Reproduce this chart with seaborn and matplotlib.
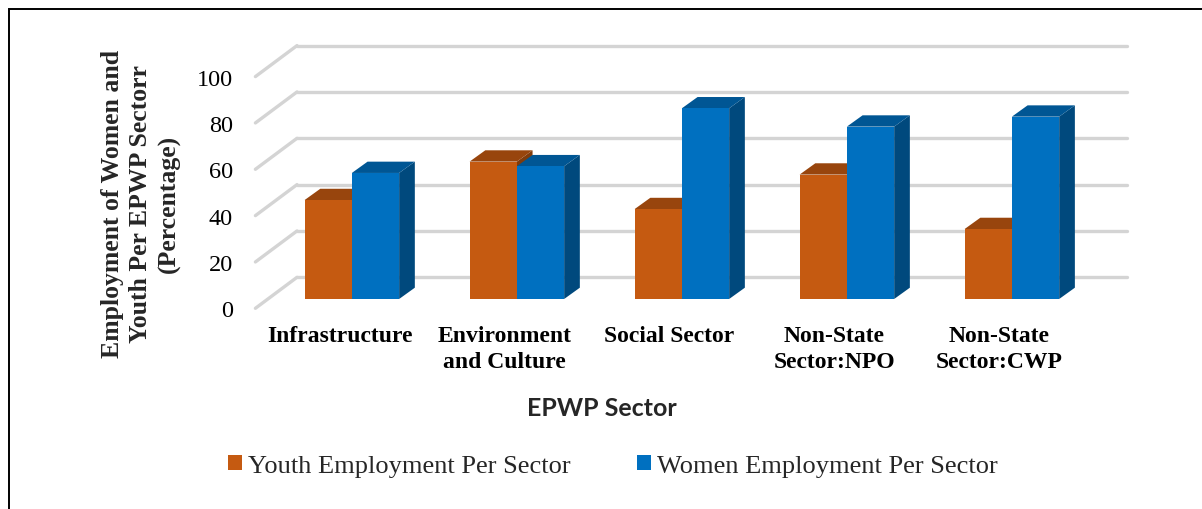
import matplotlib
matplotlib.use("Agg")
import numpy as np
import pandas as pd
import matplotlib.pyplot as plt
import matplotlib.transforms as mtransforms
from matplotlib.patches import Polygon, Rectangle
from matplotlib.colors import to_rgb
import seaborn as sns

# ---------------- data ----------------
sectors = ["Infrastructure", "Environment\nand Culture", "Social Sector",
           "Non-State\nSector:NPO", "Non-State\nSector:CWP"]
youth = [42.7, 59.3, 38.8, 53.7, 30.2]
women = [54.4, 57.3, 82.3, 74.4, 78.7]
series = ["Youth Employment Per Sector", "Women Employment Per Sector"]
yticks = [0, 20, 40, 60, 80, 100]

df = pd.DataFrame({
    "Sector": sectors * 2,
    "Value": youth + women,
    "Series": [series[0]] * len(sectors) + [series[1]] * len(sectors),
})

# ---------------- style ----------------
sns.set_theme(style="white")
plt.rcParams["font.family"] = ["Liberation Serif", "DejaVu Serif"]

W, H = 1202, 510
DPI = 100
fig = plt.figure(figsize=(W / DPI, H / DPI), dpi=DPI)
fig.patch.set_facecolor("white")

# axes = back wall of the 3-D box (pixel layout)
left_px, right_px, top_px, bot_px = 297, 1127, 46.6, 278.3
ax = fig.add_axes([left_px / W, 1 - bot_px / H,
                   (right_px - left_px) / W, (bot_px - top_px) / H])
ax.set_facecolor("none")

palette = ["#C55A11", "#0070C0"]
sns.barplot(data=df, x="Sector", y="Value", hue="Series", palette=palette,
            width=0.573, saturation=1, linewidth=0, errorbar=None, ax=ax)

ax.set_xlim(-0.51, 4.52)
ax.set_ylim(0, 100)
ax.set_yticks(yticks)
sns.despine(ax=ax, left=True, bottom=True)

# back-wall gridlines
ax.grid(axis="y", color="#d4d4d4", linewidth=2.4)
ax.grid(axis="x", visible=False)
ax.set_axisbelow(True)
for gl in ax.get_ygridlines():
    gl.set_clip_on(False)

# oblique depth offsets (pixels, display coords: +y is up)
FLOOR = (-41.6, -31.0)     # front edge of floor relative to back wall
FRONT = (-29.3, -21.7)     # bar front faces relative to back wall
DEPTH = (15.7, 11.3)       # depth of bars

def px_off(dx, dy):
    return mtransforms.ScaledTranslation(dx / DPI, dy / DPI, fig.dpi_scale_trans)

# left side-wall diagonals
for v in yticks:
    ax.annotate("", xy=(ax.get_xlim()[0], v), xycoords="data",
                xytext=(FLOOR[0] * 72 / DPI, FLOOR[1] * 72 / DPI),
                textcoords="offset points", annotation_clip=False,
                arrowprops=dict(arrowstyle="-", color="#d4d4d4", lw=2.4,
                                shrinkA=0, shrinkB=0), zorder=0.5)

# 3-D bars built from seaborn's bar patches
p0 = ax.transData.transform((0, 0))
p1 = ax.transData.transform((1, 1))
dx_d = DEPTH[0] / (p1[0] - p0[0])
dy_d = DEPTH[1] / (p1[1] - p0[1])
front_tr = ax.transData + px_off(*FRONT)

def shade(c, f):
    r, g, b = to_rgb(c)
    return (r * f, g * f, b * f)

bars = sorted([p for p in ax.patches if isinstance(p, Rectangle)],
              key=lambda p: p.get_x())
for p in bars:
    x0, w, h = p.get_x(), p.get_width(), p.get_height()
    if h <= 0:
        continue
    col = p.get_facecolor()
    z = 2 + (x0 + 1) * 0.1
    p.set_transform(front_tr)
    p.set_clip_on(False)
    p.set_zorder(z + 0.01)
    side = Polygon([(x0 + w, 0), (x0 + w + dx_d, dy_d),
                    (x0 + w + dx_d, h + dy_d), (x0 + w, h)],
                   closed=True, facecolor=shade(col, 0.65), edgecolor="none",
                   transform=front_tr, zorder=z, clip_on=False)
    top = Polygon([(x0, h), (x0 + w, h), (x0 + w + dx_d, h + dy_d),
                   (x0 + dx_d, h + dy_d)],
                  closed=True, facecolor=shade(col, 0.77), edgecolor="none",
                  transform=front_tr, zorder=z, clip_on=False)
    ax.add_patch(side)
    ax.add_patch(top)

# ticks
ax.tick_params(axis="y", length=0, pad=22.4 * 72 / DPI, labelsize=17.5,
               colors="black")
ax.tick_params(axis="x", length=0, pad=17 * 72 / DPI, labelsize=17,
               colors="black")
for lab in ax.get_xticklabels():
    lab.set_fontweight("bold")
    lab.set_linespacing(1.3)
    lab.set_transform(lab.get_transform() + px_off(*FLOOR))
for lab in ax.get_yticklabels():
    lab.set_transform(lab.get_transform() + px_off(*FLOOR))

# axis labels
ax.set_ylabel("Employment of Women and\nYouth Per EPWP Sectorr\n(Percentage)",
              fontsize=18.5, fontweight="bold", linespacing=1.3)
ax.yaxis.label.set_va("center")
ax.yaxis.set_label_coords((141 - left_px) / (right_px - left_px),
                          ((H - 204) - (H - bot_px)) / (bot_px - top_px))

ax.set_xlabel("EPWP Sector", fontsize=18, fontweight="bold",
              family=["Lato", "DejaVu Sans"])
ax.xaxis.label.set_va("center")
ax.xaxis.set_label_coords((602 - left_px) / (right_px - left_px),
                          ((H - 409) - (H - bot_px)) / (bot_px - top_px))

# legend
sns.move_legend(ax, "center left", bbox_to_anchor=(228 / W, 1 - 467 / H),
                bbox_transform=fig.transFigure, ncol=2, frameon=False,
                title=None, fontsize=19, handlelength=0.53, handleheight=0.5,
                handletextpad=0.23, columnspacing=2.5, borderpad=0,
                borderaxespad=0)

# outer frame (only top and left edges fall inside the picture)
fig.add_artist(Rectangle((8.5 / W, -0.05), 1.2, (1 - 10 / H) + 0.05,
                         transform=fig.transFigure, fill=False,
                         edgecolor="black", linewidth=1.4))

fig.savefig("out.png", dpi=DPI, facecolor="white")
